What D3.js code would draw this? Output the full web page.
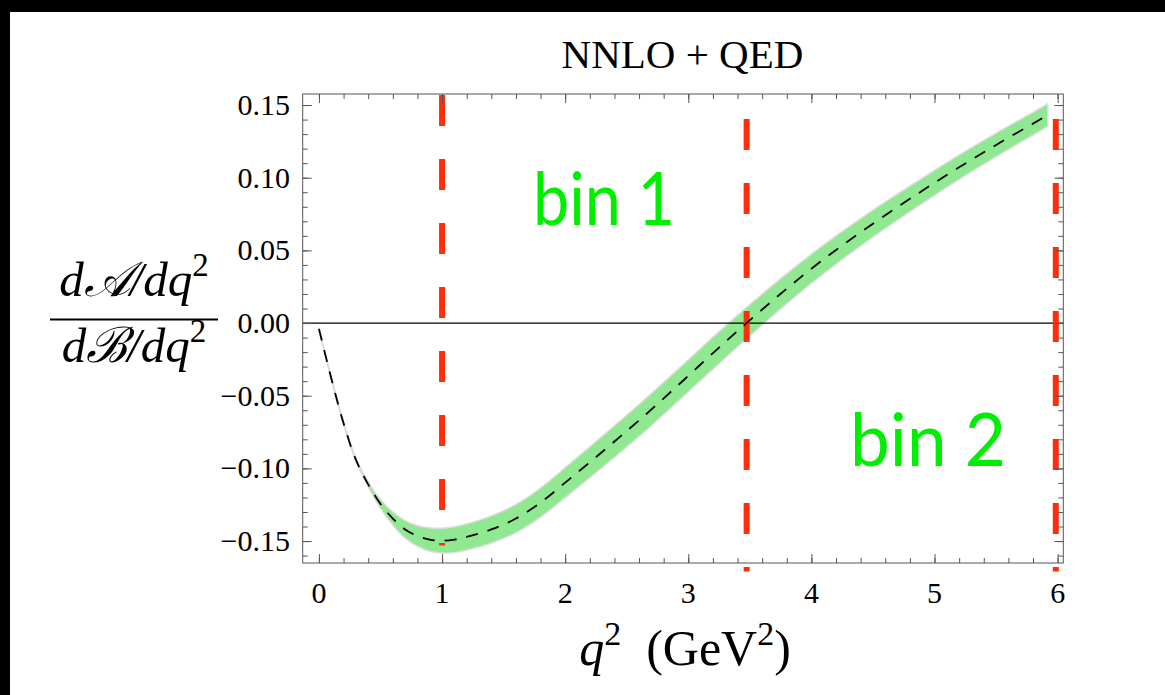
<!DOCTYPE html>
<html>
<head>
<meta charset="utf-8">
<script src="https://cdn.jsdelivr.net/npm/d3@7"></script>
<style>
  body { margin: 0; background: #fff; }
  svg { display: block; }
</style>
</head>
<body>
<div class="chart"></div>
<script>
// q^2 grid (GeV^2) and the ratio
const q2 = [0, 0.1, 0.2, 0.3, 0.4, 0.5, 0.6, 0.7, 0.8, 0.9, 1.0, 1.1, 1.2, 1.4, 1.6, 1.8, 2.0, 2.2, 2.4, 2.6,
  2.8, 3.0, 3.2, 3.4, 3.6, 3.8, 4.0, 4.2, 4.4, 4.6, 4.8, 5.0, 5.2, 5.4, 5.6, 5.8, 5.92];
const central = [-0.004, -0.038, -0.069, -0.094, -0.111, -0.1245, -0.1345, -0.142, -0.1465, -0.149, -0.1497,
  -0.149, -0.1472, -0.142, -0.1345, -0.1235, -0.1098, -0.0958, -0.0815, -0.067, -0.0518, -0.0363, -0.0207,
  -0.0055, 0.0093, 0.0237, 0.0374, 0.0503, 0.0625, 0.0742, 0.0855, 0.0965, 0.1072, 0.1175, 0.1275, 0.1372, 0.1432];
const upper = [-0.0032, -0.0372, -0.0681, -0.093, -0.1095, -0.1215, -0.13, -0.136, -0.1395, -0.141, -0.1412,
  -0.1402, -0.1382, -0.1327, -0.1248, -0.1135, -0.0995, -0.0852, -0.0707, -0.056, -0.0408, -0.0253, -0.0097,
  0.0053, 0.0199, 0.034, 0.0474, 0.06, 0.0719, 0.0833, 0.0943, 0.1051, 0.1156, 0.1257, 0.1355, 0.145, 0.1509];
const lower = [-0.0048, -0.0388, -0.0699, -0.095, -0.1125, -0.1275, -0.139, -0.148, -0.1535, -0.157, -0.1582,
  -0.1578, -0.1562, -0.1513, -0.1442, -0.1335, -0.1201, -0.1064, -0.0923, -0.078, -0.0628, -0.0473, -0.0317,
  -0.0163, -0.0013, 0.0134, 0.0274, 0.0406, 0.0531, 0.0651, 0.0767, 0.0879, 0.0988, 0.1093, 0.1195, 0.1294, 0.1355];

// bin edges (red dashed lines) and where each one stops
const binEdges = [1, 3.474, 5.985];
const binEdgeBottom = [-0.153, -0.171, -0.171];
const binNames = ["bin 1", "bin 2"];

const xTicks = [0, 1, 2, 3, 4, 5, 6];
const xTickLabels = ["0", "1", "2", "3", "4", "5", "6"];
const yTicks = [-0.15, -0.10, -0.05, 0, 0.05, 0.10, 0.15];
const yTickLabels = ["\u22120.15", "\u22120.10", "\u22120.05", "0.00", "0.05", "0.10", "0.15"];

const W = 1165, H = 695;
const frame = { left: 302.7, top: 94, right: 1063.3, bottom: 563 };
const axisColor = "#555";
const serif = "'Liberation Serif', 'Times New Roman', serif";

const svg = d3.select(".chart").append("svg")
  .attr("width", W)
  .attr("height", H);

// black strip on top and left of the picture
svg.append("rect").attr("width", W).attr("height", H).attr("fill", "#000");
svg.append("rect").attr("x", 10).attr("y", 12).attr("width", W - 10).attr("height", H - 12).attr("fill", "#fff");

const x = d3.scaleLinear().domain([-0.132, 6.046]).range([frame.left, frame.right]);
const y = d3.scaleLinear().domain([-0.1651, 0.1576]).range([frame.bottom, frame.top]);

const pts = q2.map((q, i) => ({ q, c: central[i], hi: upper[i], lo: lower[i] }));

// uncertainty band
svg.append("path")
  .datum(pts)
  .attr("fill", "#90e890")
  .attr("stroke", "#dcdcdc")
  .attr("stroke-width", 1.5)
  .attr("d", d3.area().curve(d3.curveCatmullRom)
    .x(d => x(d.q)).y0(d => y(d.lo)).y1(d => y(d.hi)));

// zero line
svg.append("line")
  .attr("x1", frame.left).attr("x2", frame.right)
  .attr("y1", y(0)).attr("y2", y(0))
  .attr("stroke", "#000").attr("stroke-width", 1.2);

// red bin edges
const dashOffsets = [0, 40, 40];
svg.selectAll(".edge")
  .data(binEdges)
  .enter().append("line")
  .attr("class", "edge")
  .attr("x1", d => x(d)).attr("x2", d => x(d))
  .attr("y1", y.range()[1] + 1)
  .attr("y2", (d, i) => y(binEdgeBottom[i]))
  .attr("stroke", "#ff2d0a")
  .attr("stroke-width", 6)
  .attr("stroke-dasharray", "31,33")
  .attr("stroke-dashoffset", (d, i) => dashOffsets[i]);

// central dashed curve
svg.append("path")
  .datum(pts)
  .attr("fill", "none")
  .attr("stroke", "#000")
  .attr("stroke-width", 1.8)
  .attr("stroke-dasharray", "12,10")
  .attr("d", d3.line().curve(d3.curveCatmullRom).x(d => x(d.q)).y(d => y(d.c)));

// frame and ticks (all inward)
function tickAxis(axis, pos, values, size) {
  const g = svg.append("g").attr("transform", pos)
    .call(axis.tickValues(values).tickSize(-size).tickFormat(""));
  g.select(".domain").remove();
  g.selectAll(".tick line").attr("stroke", axisColor);
  return g;
}
const xMinor = d3.range(0, 6.01, 0.2);
const yMinor = d3.range(-16, 16).map(v => v / 100);
const bottomT = `translate(0,${frame.bottom})`, topT = `translate(0,${frame.top})`;
const leftT = `translate(${frame.left},0)`, rightT = `translate(${frame.right},0)`;

tickAxis(d3.axisBottom(x), bottomT, xMinor, 5);
tickAxis(d3.axisBottom(x), bottomT, xTicks, 9);
tickAxis(d3.axisTop(x), topT, xMinor, 5);
tickAxis(d3.axisTop(x), topT, xTicks, 9);
tickAxis(d3.axisLeft(y), leftT, yMinor, 5);
tickAxis(d3.axisLeft(y), leftT, yTicks, 9);
tickAxis(d3.axisRight(y), rightT, yMinor, 5);
tickAxis(d3.axisRight(y), rightT, yTicks, 9);

svg.append("rect")
  .attr("x", frame.left).attr("y", frame.top)
  .attr("width", frame.right - frame.left).attr("height", frame.bottom - frame.top)
  .attr("fill", "none").attr("stroke", axisColor).attr("stroke-width", 1);

// tick labels
svg.selectAll(".xlab")
  .data(xTicks)
  .enter().append("text")
  .attr("x", d => x(d)).attr("y", 603)
  .attr("text-anchor", "middle")
  .style("font-family", serif).style("font-size", "30px")
  .text((d, i) => xTickLabels[i]);

svg.selectAll(".ylab")
  .data(yTicks)
  .enter().append("text")
  .attr("x", 290).attr("y", d => y(d) + 9.8)
  .attr("text-anchor", "end")
  .style("font-family", serif).style("font-size", "30px")
  .text((d, i) => yTickLabels[i]);

// title
svg.append("text")
  .attr("x", 682.5).attr("y", 68)
  .attr("text-anchor", "middle")
  .style("font-family", serif).style("font-size", "41px")
  .text("NNLO + QED");

// x axis title
const xt = svg.append("text")
  .attr("x", 685).attr("y", 665)
  .attr("text-anchor", "middle")
  .style("font-family", serif).style("font-size", "50px");
xt.append("tspan").style("font-style", "italic").text("q");
xt.append("tspan").attr("dy", -20).style("font-size", "34px").text("2");
xt.append("tspan").attr("dy", 20).text("\u2002(GeV");
xt.append("tspan").attr("dy", -20).style("font-size", "34px").text("2");
xt.append("tspan").attr("dy", 20).text(")");

// y axis title as a fraction
function fracPart(yb, letter) {
  const t = svg.append("text")
    .attr("x", 134).attr("y", yb)
    .attr("text-anchor", "middle")
    .style("font-family", serif).style("font-size", "49px").style("font-style", "italic");
  t.append("tspan").text("d" + letter + "/dq");
  t.append("tspan").attr("dy", -20).style("font-size", "33px").style("font-style", "normal").text("2");
}
fracPart(296, "\uD835\uDC9C");
svg.append("line")
  .attr("x1", 50).attr("x2", 218).attr("y1", 319.5).attr("y2", 319.5)
  .attr("stroke", "#000").attr("stroke-width", 2);
fracPart(362, "\u212C");

// bin labels
const binLabelAt = [[533, 225, 142], [850, 466, 156]];
svg.selectAll(".bin")
  .data(binNames)
  .enter().append("text")
  .attr("x", (d, i) => binLabelAt[i][0]).attr("y", (d, i) => binLabelAt[i][1])
  .attr("textLength", (d, i) => binLabelAt[i][2])
  .attr("lengthAdjust", "spacingAndGlyphs")
  .attr("fill", "#00ee00")
  .style("font-family", "Lato, 'Open Sans', sans-serif").style("font-size", "74px")
  .text(d => d);
</script>
</body>
</html>
